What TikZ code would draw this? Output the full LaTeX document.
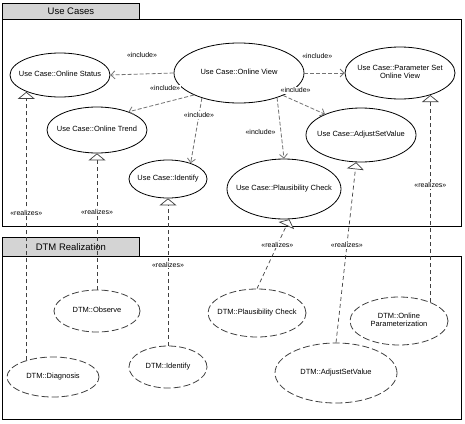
\documentclass[tikz,border=0pt]{standalone}
\usepackage{fontspec}
\setmainfont{Liberation Sans}
\usepackage{xcolor}
\usepackage{tikz}
\usetikzlibrary{shapes.geometric, arrows.meta, positioning}

\definecolor{tabgray}{RGB}{212,212,212}
\newcommand{\ucname}[1]{\makebox[0pt]{\begin{tabular}{@{}c@{}}#1\end{tabular}}}

\begin{document}
\begin{tikzpicture}[x=1pt, y=-1pt,
  pkgbody/.style={draw=black, line width=0.8pt, inner sep=0pt, anchor=north west},
  pkgtab/.style={pkgbody, fill=tabgray, font=\fontsize{9.5}{11}\selectfont},
  ucase/.style={ellipse, draw=black, line width=0.8pt, inner sep=0pt, font=\fontsize{7.5}{8.5}\selectfont},
  dtmcase/.style={ucase, draw=black!75, dash pattern=on 7pt off 3pt},
  stlabel/.style={font=\fontsize{7}{8}\selectfont, inner sep=1pt, fill=white},
  inclarrow/.style={-{Straight Barb[length=4pt, width=8pt]}, draw=black!55, line width=0.8pt, dash pattern=on 4pt off 2pt},
  realarrow/.style={-{Triangle[open, fill=white, length=7pt, width=17pt]}, draw=black!75, line width=0.7pt, dash pattern=on 4pt off 3pt}
]
  \useasboundingbox[fill=white] (0,0) rectangle (465,423);

  % Packages
  \node[pkgbody, minimum width=459pt, minimum height=207pt] (ucbody) at (2,19) {};
  \node[pkgtab, minimum width=137pt, minimum height=16pt] (uctab) at (2,3) {Use Cases};
  \node[pkgbody, minimum width=459pt, minimum height=163pt] (dtmbody) at (2,256) {};
  \node[pkgtab, minimum width=137pt, minimum height=19pt] (dtmtab) at (2,237) {DTM Realization};

  % Use cases
  \node[ucase, minimum width=100pt, minimum height=44pt] (stat) at (60,75) {\ucname{Use Case::Online Status}};
  \node[ucase, minimum width=130pt, minimum height=60pt] (view) at (239,73) {\ucname{Use Case::Online View}};
  \node[ucase, minimum width=110pt, minimum height=52pt] (par) at (400,73) {\ucname{Use Case::Parameter Set\\Online View}};
  \node[ucase, minimum width=100pt, minimum height=46pt] (trend) at (97,130) {\ucname{Use Case::Online Trend}};
  \node[ucase, minimum width=78pt, minimum height=38pt] (ident) at (168,179) {\ucname{Use Case::Identify}};
  \node[ucase, minimum width=110pt, minimum height=54pt] (adj) at (361,135) {\ucname{Use Case::AdjustSetValue}};
  \node[ucase, minimum width=114pt, minimum height=60pt] (plaus) at (284,189) {\ucname{Use Case::Plausibility Check}};

  % DTM realizations
  \node[dtmcase, minimum width=86pt, minimum height=42pt] (obs) at (97,311) {\ucname{DTM::Observe}};
  \node[dtmcase, minimum width=92pt, minimum height=40pt] (diag) at (53,377) {\ucname{DTM::Diagnosis}};
  \node[dtmcase, minimum width=78pt, minimum height=42pt] (dident) at (168,367) {\ucname{DTM::Identify}};
  \node[dtmcase, minimum width=98pt, minimum height=48pt] (dplaus) at (257,313) {\ucname{DTM::Plausibility Check}};
  \node[dtmcase, minimum width=98pt, minimum height=48pt] (donpar) at (399,321) {\ucname{DTM::Online\\Parameterization}};
  \node[dtmcase, minimum width=122pt, minimum height=60pt] (dadj) at (336,373) {\ucname{DTM::AdjustSetValue}};

  % include relations
  \draw[inclarrow] (view.west) -- node[stlabel, pos=0.5, above=15pt] {«include»} (stat.east);
  \draw[inclarrow] (view.east) -- node[stlabel, pos=0.32, above=13pt] {«include»} (par.west);
  \draw[inclarrow] (view.206) -- node[stlabel, pos=0.44, above=10pt] {«include»} (trend.30);
  \draw[inclarrow] (view.214) -- node[stlabel, pos=0.26] {«include»} (ident.35);
  \draw[inclarrow] (view.327) -- node[stlabel, pos=0.56, left=4pt] {«include»} (plaus.north);
  \draw[inclarrow] (view.333) -- node[stlabel, pos=0.3, above=7pt] {«include»} (adj.150);

  % realizes relations
  \draw[realarrow] (diag.148) -- node[stlabel, pos=0.55] {«realizes»} (diag.148 |- stat.207);
  \draw[realarrow] (obs) -- node[stlabel, pos=0.57] {«realizes»} (trend);
  \draw[realarrow] (dident) -- node[stlabel, pos=0.55] {«realizes»} (ident);
  \draw[realarrow] (dplaus.north) -- node[stlabel, pos=0.63] {«realizes»} (plaus.280);
  \draw[realarrow] (dadj.north) -- node[stlabel, pos=0.54] {«realizes»} (adj.260);
  \draw[realarrow] (donpar.31) -- node[stlabel, pos=0.565] {«realizes»} (donpar.31 |- par.324);

\end{tikzpicture}
\end{document}
